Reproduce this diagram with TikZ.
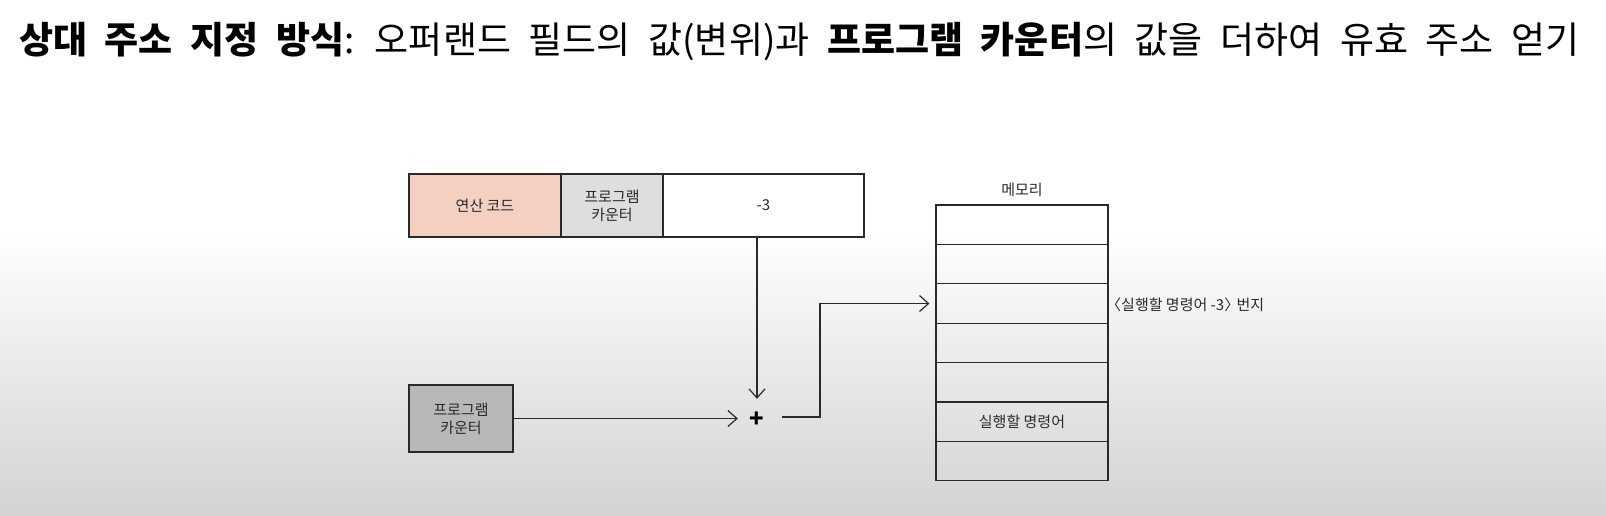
\documentclass[tikz,border=0pt]{standalone}
\usepackage{fontspec}
\setmainfont{Noto Sans CJK KR}
\usetikzlibrary{arrows.meta,calc}
\definecolor{opc}{HTML}{F4D0C2}
\definecolor{pcf}{HTML}{DEDEDE}
\definecolor{pcbox}{HTML}{B8B8B8}
\definecolor{ink}{HTML}{2A2A2A}
\definecolor{bgbot}{HTML}{D3D3D3}
\tikzset{
  cell/.style={draw=ink, line width=1.2pt, inner sep=0pt, text=ink, font=\fontsize{15}{18}\selectfont, align=center},
  memcell/.style={draw=ink, line width=1.2pt, inner sep=0pt, minimum width=172, minimum height=39.4, text=ink, font=\fontsize{15}{18}\selectfont},
  lab/.style={text=ink, inner sep=0pt, font=\fontsize{15}{18}\selectfont},
  arr/.style={draw=ink, line width=1.2pt, -{Straight Barb[length=9pt,width=16pt,line width=1.2pt]}},
  conn/.style={draw=ink, line width=1.2pt}
}
\begin{document}
\begin{tikzpicture}[x=1pt,y=-1pt]
\useasboundingbox (0,0) rectangle (1606,515);
\fill[white] (0,0) rectangle (1606,231);
\shade[top color=white, bottom color=bgbot] (0,230) rectangle (1606,515);

\node[anchor=west, inner sep=0pt, text=black, font=\fontsize{37}{42}\selectfont] (title) at (19,41)
  {\spaceskip=17.6pt\textbf{상대 주소 지정 방식}: 오퍼랜드 필드의 값(변위)과 \textbf{프로그램 카운터}의 값을 더하여 유효 주소 얻기};

% instruction
\node[cell, fill=opc, minimum width=152, minimum height=63] (opcode) at (485,205.5) {연산 코드};
\node[cell, fill=pcf, minimum width=102, minimum height=63] (pcfield) at (612,205.5) {프로그램\\카운터};
\node[cell, fill=white, minimum width=201, minimum height=63] (disp) at (763.5,205.5) {-3};

% program counter
\node[cell, fill=pcbox, minimum width=104, minimum height=67] (pc) at (461,418.5) {프로그램\\카운터};

% plus
\node[inner sep=0pt, minimum width=38, minimum height=42, text=black, font=\fontsize{24}{24}\selectfont\bfseries] (plus) at (757,420) {+};

% memory
\node[lab] (memlab) at (1022,190) {메모리};
\foreach \i in {1,...,7}{
  \node[memcell] (m\i) at (1022,{205+19.7+39.4*(\i-1)}) {};
}
\node[lab] (m6txt) at (m6) {실행할 명령어};
\node[lab, anchor=west] (addrlab) at (1106,305) {〈실행할 명령어 -3〉\kern-0.4em{} 번지};

\coordinate (bend) at (820,417);

\draw[arr] (disp.south -| plus) -- (plus.north);
\draw[arr] (pc.east) -- (pc.east -| plus.west);
\draw[arr, shorten <=6pt, shorten >=6pt] (plus.east |- bend) -- (bend) |- (m3.west);
\end{tikzpicture}
\end{document}
